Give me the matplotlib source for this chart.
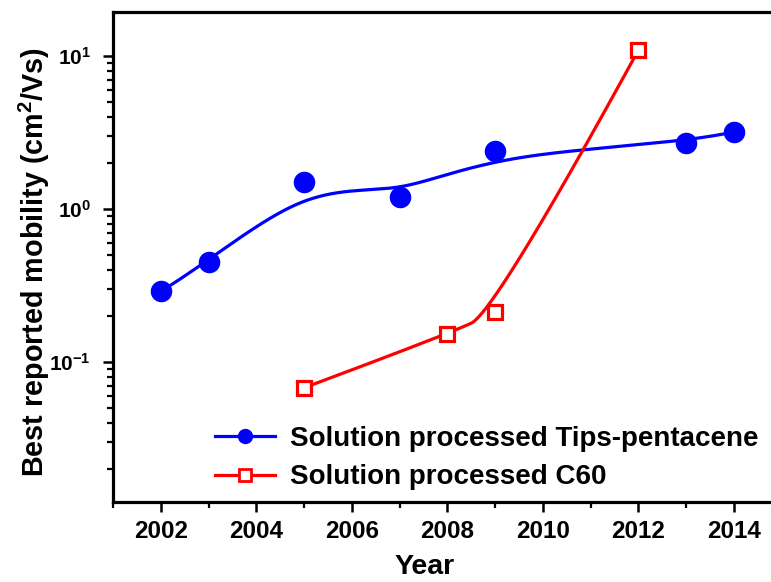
import numpy as np
import matplotlib
matplotlib.use("Agg")
import matplotlib.pyplot as plt
from matplotlib.lines import Line2D
from matplotlib.ticker import FixedLocator, LogLocator, FuncFormatter, NullFormatter

plt.rcParams['font.family'] = ['Liberation Sans', 'DejaVu Sans']
plt.rcParams['font.weight'] = 'bold'
plt.rcParams['mathtext.fontset'] = 'custom'
plt.rcParams['mathtext.rm'] = 'Liberation Sans:bold'
plt.rcParams['mathtext.it'] = 'Liberation Sans:bold'
plt.rcParams['mathtext.bf'] = 'Liberation Sans:bold'

# ---- data ----
tips_years = [2002, 2003, 2005, 2007, 2009, 2013, 2014]
tips_mobility = [0.29, 0.45, 1.5, 1.2, 2.4, 2.7, 3.2]
c60_years = [2005, 2008, 2009, 2012]
c60_mobility = [0.068, 0.152, 0.212, 10.9]
x_ticks = [2002, 2004, 2006, 2008, 2010, 2012, 2014]
labels = ["Solution processed Tips-pentacene", "Solution processed C60"]


def bspline(px, py, k, n=500):
    px = np.asarray(px, float)
    py = np.asarray(py, float)
    m = len(px)
    inner = np.linspace(0, 1, m - k + 1)
    knots = np.concatenate([np.zeros(k), inner, np.ones(k)])
    t = np.linspace(0, 1, n)
    N = np.zeros((n, len(knots) - 1))
    for i in range(len(knots) - 1):
        N[:, i] = (knots[i] <= t) & (t < knots[i + 1])
    N[-1, :] = 0
    N[-1, m - 1] = 1
    for d in range(1, k + 1):
        Nn = np.zeros((n, len(knots) - 1 - d))
        for i in range(len(knots) - 1 - d):
            a = 0.0
            den1 = knots[i + d] - knots[i]
            if den1 > 0:
                a = (t - knots[i]) / den1 * N[:, i]
            b = 0.0
            den2 = knots[i + d + 1] - knots[i + 1]
            if den2 > 0:
                b = (knots[i + d + 1] - t) / den2 * N[:, i + 1]
            Nn[:, i] = a + b
        N = Nn
    return N @ px, N @ py


W, H = 771, 582
fig = plt.figure(figsize=(W / 100, H / 100), dpi=100)
left, right, top, bottom = 113, 781.5, 12, 502
ax = fig.add_axes([left / W, (H - bottom) / H, (right - left) / W, (bottom - top) / H])

blue = '#0000FF'
red = '#FF0000'

bx, by = bspline(tips_years, np.log10(tips_mobility), 3)
ax.plot(bx, 10 ** by, color=blue, lw=2.3, zorder=2)
ax.plot(tips_years, tips_mobility, 'o', color=blue, ms=14.5, zorder=3)

rx, ry = bspline(c60_years, np.log10(c60_mobility), 2)
ax.plot(rx, 10 ** ry, color=red, lw=2.3, zorder=4)
ax.plot(c60_years, c60_mobility, 's', color=red, mfc='white', ms=10.5, mew=2.3, zorder=5)

ax.set_yscale('log')
ax.set_xlim(2001, 2015)
ax.set_ylim(0.0122, 19.4)

ax.xaxis.set_major_locator(FixedLocator(x_ticks))
ax.xaxis.set_minor_locator(FixedLocator(np.arange(2001, 2016, 1)))
ax.xaxis.set_major_formatter(FuncFormatter(lambda v, p: f"{int(round(v))}"))
ax.yaxis.set_major_locator(LogLocator(base=10, numticks=10))
ax.yaxis.set_minor_locator(LogLocator(base=10, subs=np.arange(2, 10), numticks=20))
ax.yaxis.set_minor_formatter(NullFormatter())
ax.yaxis.set_major_formatter(FuncFormatter(lambda v, p: r"$\mathbf{10^{%d}}$" % int(round(np.log10(v)))))

for s in ax.spines.values():
    s.set_linewidth(2.3)
ax.tick_params(axis='both', which='major', direction='out', length=7, width=1.8)
ax.tick_params(axis='both', which='minor', direction='out', length=4, width=1.6)
ax.tick_params(axis='x', which='major', labelsize=17.5, pad=6)
ax.tick_params(axis='y', which='major', labelsize=15, pad=9)
ax.tick_params(top=False, right=False, which='both')

ax.set_xlabel("Year", fontsize=20.5, fontweight='bold')
ax.xaxis.set_label_coords((425 - left) / (right - left), -0.107)
ax.set_ylabel(r"Best reported mobility (cm$^{2}$/Vs)", fontsize=20.7, fontweight='bold')
ax.yaxis.set_label_coords((52 - left) / (right - left), 0.49)

handles = [
    Line2D([], [], color=blue, lw=2.3, marker='o', ms=10),
    Line2D([], [], color=red, lw=2.3, marker='s', mfc='white', ms=8, mew=2),
]
leg = ax.legend(handles, labels, loc='center left',
                bbox_to_anchor=((215 - left) / (right - left), (bottom - 458) / (bottom - top)),
                frameon=False, fontsize=20, borderpad=0, borderaxespad=0,
                handlelength=2.15, handletextpad=0.55, labelspacing=0.45)
for t in leg.get_texts():
    t.set_fontweight('bold')

fig.savefig("out.png", dpi=100)
